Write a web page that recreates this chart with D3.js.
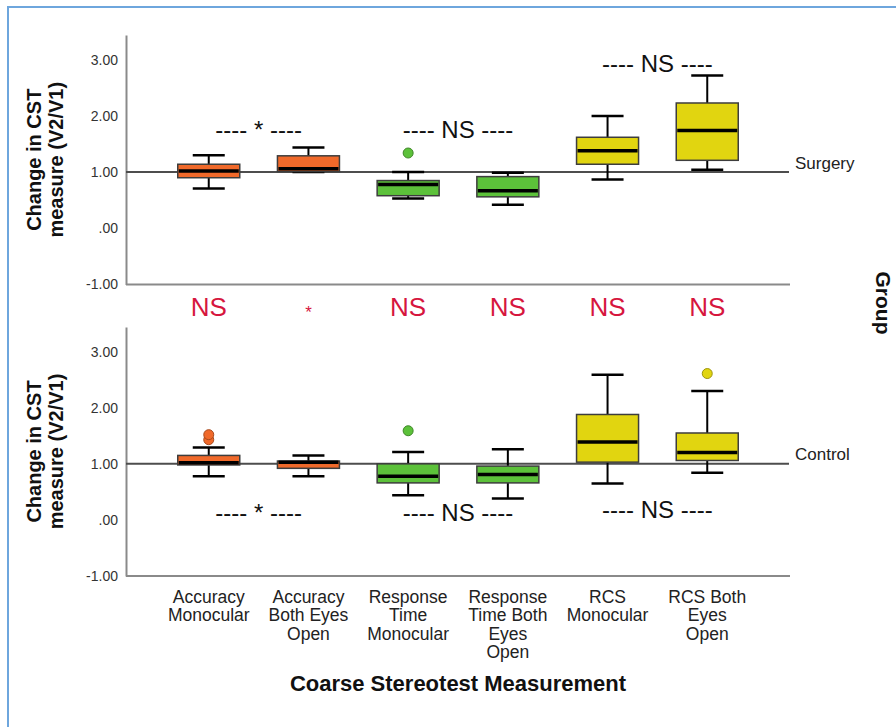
<!DOCTYPE html>
<html>
<head>
<meta charset="utf-8">
<script src="https://cdn.jsdelivr.net/npm/d3@7/dist/d3.min.js"></script>
<style>
  html, body { margin: 0; padding: 0; background: #fff; }
  svg { display: block; font-family: "Liberation Sans", Arial, sans-serif; }
</style>
</head>
<body>
<svg id="chart" width="896" height="727"></svg>
<script>
// ---- Data -------------------------------------------------------------
const categories = [
  "Accuracy Monocular", "Accuracy Both Eyes Open",
  "Response Time Monocular", "Response Time Both Eyes Open",
  "RCS Monocular", "RCS Both Eyes Open"
];
const categoryLabelLines = [
  ["Accuracy", "Monocular"],
  ["Accuracy", "Both Eyes", "Open"],
  ["Response", "Time", "Monocular"],
  ["Response", "Time Both", "Eyes", "Open"],
  ["RCS", "Monocular"],
  ["RCS Both", "Eyes", "Open"]
];
const groups = ["Surgery", "Control"];
const yTickValues = [-1, 0, 1, 2, 3];

// Surgery group: whisker low, Q1, median, Q3, whisker high, outliers
const surgeryLow      = [0.71, 1.00, 0.53, 0.42, 0.87, 1.04];
const surgeryQ1       = [0.90, 1.01, 0.58, 0.56, 1.14, 1.21];
const surgeryMedian   = [1.02, 1.06, 0.78, 0.67, 1.38, 1.74];
const surgeryQ3       = [1.14, 1.29, 0.85, 0.92, 1.62, 2.23];
const surgeryHigh     = [1.30, 1.44, 1.00, 0.99, 2.00, 2.72];
const surgeryOutliers = [[], [], [1.34], [], [], []];

// Control group
const controlLow      = [0.78, 0.78, 0.44, 0.38, 0.65, 0.84];
const controlQ1       = [0.98, 0.92, 0.66, 0.66, 1.03, 1.06];
const controlMedian   = [1.02, 1.03, 0.78, 0.81, 1.39, 1.20];
const controlQ3       = [1.15, 1.05, 1.00, 0.96, 1.88, 1.55];
const controlHigh     = [1.29, 1.15, 1.21, 1.26, 2.59, 2.30];
const controlOutliers = [[1.43, 1.52], [], [1.59], [], [], [2.61]];

// Within-group comparisons (category pairs) and the level they are written at
const pairIndexes       = [[0, 1], [2, 3], [4, 5]];
const surgeryPairTexts  = ["*", "NS", "NS"];
const surgeryPairLevels = [1.61, 1.61, 2.78];
const controlPairTexts  = ["*", "NS", "NS"];
const controlPairLevels = [-0.02, -0.02, 0.03];

// Between-group comparison per category
const groupComparison = ["NS", "*", "NS", "NS", "NS", "NS"];

// ---- Layout -----------------------------------------------------------
const svg = d3.select("#chart");
const plotLeft = 126, plotRight = 790;

const fillColor = d3.scaleOrdinal()
  .domain(categories)
  .range(["#f0692a", "#f0692a", "#5cc13a", "#5cc13a", "#e1d510", "#e1d510"]);

const x = d3.scalePoint().domain(categories).range([plotLeft, plotRight]).padding(0.83);
const boxWidth = 62, capWidth = 32;

// window frame
svg.append("path")
  .attr("d", "M8,727 V7 H896")
  .attr("fill", "none")
  .attr("stroke", "#6ea6dd")
  .attr("stroke-width", 2);

const panels = [
  { group: groups[0], low: surgeryLow, q1: surgeryQ1, med: surgeryMedian, q3: surgeryQ3,
    high: surgeryHigh, out: surgeryOutliers, pairTexts: surgeryPairTexts,
    pairLevels: surgeryPairLevels, range: [284.5, 35] },
  { group: groups[1], low: controlLow, q1: controlQ1, med: controlMedian, q3: controlQ3,
    high: controlHigh, out: controlOutliers, pairTexts: controlPairTexts,
    pairLevels: controlPairLevels, range: [576, 327] }
];

// "1.00", ".00", "-1.00" with a plain hyphen for negatives
const tickFmt = v => d3.format(".2f")(v).replace("\u2212", "-").replace(/^0\./, ".");

panels.forEach(p => {
  const y = d3.scaleLinear().domain([-1, 3.44]).range(p.range);
  const g = svg.append("g");

  // y axis
  const ax = g.append("g")
    .attr("transform", `translate(${plotLeft},0)`)
    .call(d3.axisLeft(y).tickValues(yTickValues).tickSize(0).tickPadding(8).tickFormat(tickFmt));
  ax.select(".domain").attr("stroke", "#8a8a8a").attr("stroke-width", 2);
  ax.selectAll("text")
    .attr("font-size", 14)
    .attr("font-family", "'Liberation Sans', Arial, sans-serif")
    .attr("fill", "#333");

  // x axis baseline
  g.append("line")
    .attr("x1", plotLeft).attr("x2", plotRight)
    .attr("y1", y(-1)).attr("y2", y(-1))
    .attr("stroke", "#8a8a8a").attr("stroke-width", 2);

  // reference line at 1.00
  g.append("line")
    .attr("x1", plotLeft).attr("x2", plotRight - 1)
    .attr("y1", y(1)).attr("y2", y(1))
    .attr("stroke", "#4d4d4d").attr("stroke-width", 2);

  // group label
  g.append("text")
    .attr("x", 795).attr("y", y(1) - 3.5)
    .attr("font-size", 17).attr("fill", "#222")
    .text(p.group);

  // boxes
  categories.forEach((c, i) => {
    const cx = x(c);
    const b = g.append("g");
    b.append("line").attr("x1", cx).attr("x2", cx)
      .attr("y1", y(p.low[i])).attr("y2", y(p.q1[i]))
      .attr("stroke", "#000").attr("stroke-width", 2);
    b.append("line").attr("x1", cx).attr("x2", cx)
      .attr("y1", y(p.q3[i])).attr("y2", y(p.high[i]))
      .attr("stroke", "#000").attr("stroke-width", 2);
    [p.low[i], p.high[i]].forEach(v => {
      b.append("line")
        .attr("x1", cx - capWidth / 2).attr("x2", cx + capWidth / 2)
        .attr("y1", y(v)).attr("y2", y(v))
        .attr("stroke", "#000").attr("stroke-width", 2.5);
    });
    b.append("rect")
      .attr("x", cx - boxWidth / 2).attr("width", boxWidth)
      .attr("y", y(p.q3[i])).attr("height", y(p.q1[i]) - y(p.q3[i]))
      .attr("fill", fillColor(c))
      .attr("stroke", "#3d3d3d").attr("stroke-width", 1.5);
    b.append("line")
      .attr("x1", cx - boxWidth / 2 + 1).attr("x2", cx + boxWidth / 2 - 1)
      .attr("y1", y(p.med[i])).attr("y2", y(p.med[i]))
      .attr("stroke", "#000").attr("stroke-width", 3.5);
    p.out[i].forEach(v => {
      b.append("circle")
        .attr("cx", cx).attr("cy", y(v)).attr("r", 5)
        .attr("fill", fillColor(c))
        .attr("stroke", d3.color(fillColor(c)).darker(1))
        .attr("stroke-width", 1);
    });
  });

  // within-group comparison annotations
  pairIndexes.forEach((pair, k) => {
    const mx = (x(categories[pair[0]]) + x(categories[pair[1]])) / 2;
    g.append("text")
      .attr("x", mx).attr("y", y(p.pairLevels[k]))
      .attr("text-anchor", "middle")
      .attr("font-size", 24).attr("fill", "#111")
      .text(`---- ${p.pairTexts[k]} ----`);
  });

  // y axis title
  const cy = (p.range[0] + p.range[1]) / 2;
  [["Change in CST", 41], ["measure (V2/V1)", 63]].forEach(([t, bx]) => {
    g.append("text")
      .attr("transform", `translate(${bx},${cy}) rotate(-90)`)
      .attr("text-anchor", "middle")
      .attr("font-size", 20).attr("font-weight", "bold").attr("fill", "#111")
      .text(t);
  });
});

// between-group comparison row
svg.append("g").selectAll("text")
  .data(groupComparison)
  .join("text")
  .attr("x", (d, i) => x(categories[i]))
  .attr("y", d => d === "*" ? 318 : 316)
  .attr("text-anchor", "middle")
  .attr("font-size", d => d === "*" ? 17 : 26)
  .attr("fill", "#d6163e")
  .text(d => d);

// category labels
const lbl = svg.append("g").selectAll("text")
  .data(categoryLabelLines)
  .join("text")
  .attr("x", (d, i) => x(categories[i]))
  .attr("y", 603)
  .attr("text-anchor", "middle")
  .attr("font-size", 17.5)
  .attr("fill", "#222");
lbl.selectAll("tspan")
  .data(d => d)
  .join("tspan")
  .attr("x", function () { return d3.select(this.parentNode).attr("x"); })
  .attr("dy", (d, j) => j === 0 ? 0 : 18.3)
  .text(d => d);

// x axis title
svg.append("text")
  .attr("x", (plotLeft + plotRight) / 2).attr("y", 691)
  .attr("text-anchor", "middle")
  .attr("font-size", 22).attr("font-weight", "bold").attr("fill", "#111")
  .text("Coarse Stereotest Measurement");

// panel variable title
svg.append("text")
  .attr("transform", "translate(876,303) rotate(90)")
  .attr("text-anchor", "middle")
  .attr("font-size", 21).attr("font-weight", "bold").attr("fill", "#111")
  .text("Group");
</script>
</body>
</html>
